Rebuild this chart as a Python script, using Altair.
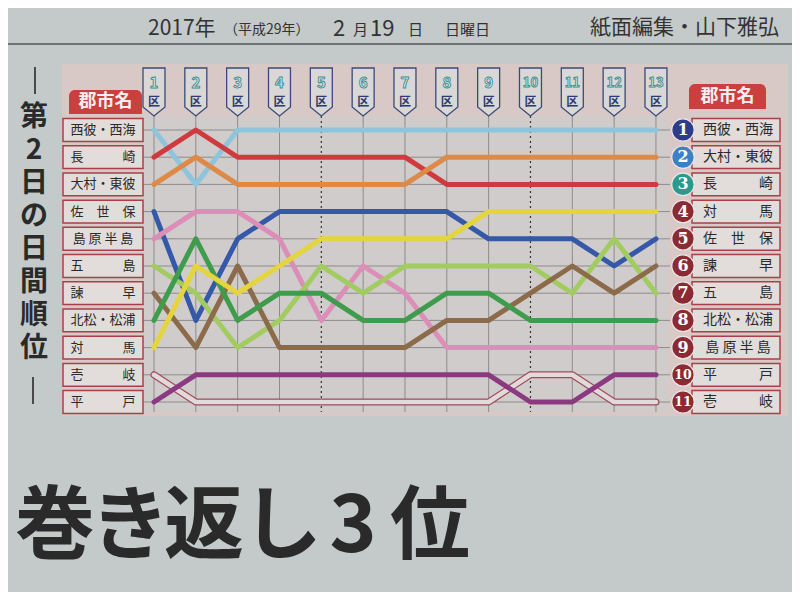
import altair as alt
import pandas as pd

# ---------------- data ----------------
stages = list(range(1, 14))
teams = ["西彼・西海", "長崎", "大村・東彼", "佐世保", "島原半島", "五島",
         "諫早", "北松・松浦", "対馬", "壱岐", "平戸"]
rank_nishisonogi = [1, 3, 1, 1, 1, 1, 1, 1, 1, 1, 1, 1, 1]
rank_nagasaki = [2, 1, 2, 2, 2, 2, 2, 3, 3, 3, 3, 3, 3]
rank_omura = [3, 2, 3, 3, 3, 3, 3, 2, 2, 2, 2, 2, 2]
rank_sasebo = [4, 8, 5, 4, 4, 4, 4, 4, 5, 5, 5, 6, 5]
rank_shimabara = [5, 4, 4, 5, 8, 6, 7, 9, 9, 9, 9, 9, 9]
rank_goto = [6, 7, 9, 8, 6, 7, 6, 6, 6, 6, 7, 5, 7]
rank_isahaya = [7, 9, 6, 9, 9, 9, 9, 8, 8, 7, 6, 7, 6]
rank_hokusho = [8, 5, 8, 7, 7, 8, 8, 7, 7, 8, 8, 8, 8]
rank_tsushima = [9, 6, 7, 6, 5, 5, 5, 5, 4, 4, 4, 4, 4]
rank_iki = [10, 11, 11, 11, 11, 11, 11, 11, 11, 10, 10, 11, 11]
rank_hirado = [11, 10, 10, 10, 10, 10, 10, 10, 10, 11, 11, 10, 10]
all_ranks = [rank_nishisonogi, rank_nagasaki, rank_omura, rank_sasebo,
             rank_shimabara, rank_goto, rank_isahaya, rank_hokusho,
             rank_tsushima, rank_iki, rank_hirado]
line_colors = ["#8ec5dc", "#cf3a3e", "#dd8a48", "#3558a8", "#dc8eb8", "#a2cc62",
               "#8c6b4b", "#3e9c4c", "#e4d43e", "#a04a5a", "#8b3a82"]

left_names = ["西彼・西海", "長　　　崎", "大村・東彼", "佐　世　保", "島 原 半 島",
              "五　　　島", "諫　　　早", "北松・松浦", "対　　　馬", "壱　　　岐", "平　　　戸"]
final_names = ["西彼・西海", "大村・東彼", "長　　　崎", "対　　　馬", "佐　世　保",
               "諫　　　早", "五　　　島", "北松・松浦", "島 原 半 島", "平　　　戸", "壱　　　岐"]
final_badge_colors = ["#2d3d8c", "#3d80c4", "#2a9a8c"] + ["#8c2a34"] * 8
rank_rows = list(range(1, 12))

header_left = "2017年"
header_era = "（平成29年）"
header_date = ["2", "月", "19", "日"]
header_dow = "日曜日"
header_right = "紙面編集・山下雅弘"
side_title = ["第", "2", "日", "の", "日", "間", "順", "位"]
headline = ["巻", "き", "返", "し", "3", "位"]

JP = "Noto Sans CJK JP"

# ---------------- scales ----------------
X_SCALE = alt.Scale(domain=[-2.490, 16.252], nice=False, zero=False)
Y_SCALE = alt.Scale(domain=[-3.485, 17.985], nice=False, zero=False, reverse=True)


def xq(f):
    return alt.X(f, type="quantitative", scale=X_SCALE, axis=None)


def yq(f):
    return alt.Y(f, type="quantitative", scale=Y_SCALE, axis=None)


one = pd.DataFrame({"a": [0]})


def label(text, x, y, **kw):
    return alt.Chart(one).mark_text(text=text, **kw).encode(x=alt.value(x), y=alt.value(y))


def box(x1, y1, x2, y2, **kw):
    return alt.Chart(one).mark_rect(**kw).encode(
        x=alt.value(x1), x2=alt.value(x2), y=alt.value(y1), y2=alt.value(y2))


# ---------------- tables ----------------
line_df = pd.DataFrame([
    {"team": t, "stage": s, "rank": r}
    for t, rr in zip(teams, all_ranks) for s, r in zip(stages, rr)
])
main_df = line_df[line_df.team != "壱岐"]
iki_df = line_df[line_df.team == "壱岐"]

stage_df = pd.DataFrame({"stage": stages, "num": [str(s) for s in stages]})
stage_df["fs"] = [15 if s < 10 else 13 for s in stages]
dotted_df = stage_df[stage_df.stage.isin([5, 10])]
solid_df = stage_df[~stage_df.stage.isin([5, 10])]

rows_df = pd.DataFrame({
    "rank": rank_rows,
    "top": [r - 0.42 for r in rank_rows],
    "bot": [r + 0.42 for r in rank_rows],
    "left": left_names,
    "final": final_names,
    "num": [str(r) for r in rank_rows],
    "badge": final_badge_colors,
})
rows_df["fs"] = [16 if r < 10 else 12.5 for r in rank_rows]

layers = []

# panel backgrounds
layers.append(box(54, 56, 780, 408, fill="#d8c9c6"))
layers.append(box(135, 108, 660, 404, fill="#d0cccb"))

# grid
layers.append(alt.Chart(solid_df).mark_rule(color="#8c8c8c", strokeWidth=1).encode(
    x=xq("stage"), y=alt.value(108), y2=alt.value(404)))
layers.append(alt.Chart(dotted_df).mark_rule(color="#333333", strokeWidth=1.2, strokeDash=[2, 3]).encode(
    x=xq("stage"), y=alt.value(108), y2=alt.value(404)))
layers.append(alt.Chart(rows_df).mark_rule(color="#8c8c8c", strokeWidth=1).encode(
    y=yq("rank"), x=alt.value(135), x2=alt.value(662)))

# stage tags
TAG = "M-0.458,-1 L0.458,-1 L0.458,0.62 L0,1 L-0.458,0.62 Z"
layers.append(alt.Chart(stage_df).mark_point(
    shape=TAG, size=2304, filled=True, fill="#d9d8d6", stroke="#3c4a7a",
    strokeWidth=1.3, opacity=1).encode(x=xq("stage"), y=alt.value(84)))
layers.append(alt.Chart(stage_df).mark_text(
    font=JP, fontWeight="bold", fill="#e4eeee", stroke="#3d8a90",
    strokeWidth=0.9).encode(x=xq("stage"), y=alt.value(75), text="num:N",
                            size=alt.Size("fs:Q", scale=None)))
layers.append(alt.Chart(stage_df).mark_text(
    text="区", font=JP, fontSize=12, fontWeight="bold", color="#2e3a70").encode(
    x=xq("stage"), y=alt.value(94)))

# ranking lines
layers.append(alt.Chart(iki_df).mark_line(strokeWidth=7, color="#a04a5a", strokeCap="round",
                                          strokeJoin="round").encode(x=xq("stage"), y=yq("rank")))
layers.append(alt.Chart(iki_df).mark_line(strokeWidth=4.6, color="#e2dada", strokeCap="round",
                                          strokeJoin="round").encode(x=xq("stage"), y=yq("rank")))
main_teams = [t for t in teams if t != "壱岐"]
main_colors = [c for t, c in zip(teams, line_colors) if t != "壱岐"]
layers.append(alt.Chart(main_df).mark_line(strokeWidth=5, strokeCap="round", strokeJoin="round").encode(
    x=xq("stage"), y=yq("rank"),
    color=alt.Color("team:N", scale=alt.Scale(domain=main_teams, range=main_colors), legend=None)))

# left labels
layers.append(box(61, 82, 134, 106, fill="#c9403f", cornerRadiusTopLeft=6, cornerRadiusTopRight=6))
layers.append(label("郡市名", 97.5, 94, font=JP, fontSize=18, fontWeight="bold", color="#f6eeee"))
layers.append(alt.Chart(rows_df).mark_rect(fill="#e2dcda", stroke="#a8404a", strokeWidth=1.5).encode(
    x=alt.value(55), x2=alt.value(135), y=yq("top"), y2=alt.Y2("bot")))
layers.append(alt.Chart(rows_df).mark_text(font=JP, fontSize=13, color="#2a2a2a").encode(
    x=alt.value(95), y=yq("rank"), text="left:N"))

# right labels
layers.append(box(681, 76, 758, 101, fill="#c9403f", cornerRadiusTopLeft=6, cornerRadiusTopRight=6))
layers.append(label("郡市名", 719.5, 88.5, font=JP, fontSize=18, fontWeight="bold", color="#f6eeee"))
layers.append(alt.Chart(rows_df).mark_rect(fill="#e2dcda", stroke="#a8404a", strokeWidth=1.5).encode(
    x=alt.value(684), x2=alt.value(772), y=yq("top"), y2=alt.Y2("bot")))
layers.append(alt.Chart(rows_df).mark_text(font=JP, fontSize=14, color="#2a2a2a").encode(
    x=alt.value(730), y=yq("rank"), text="final:N"))
layers.append(alt.Chart(rows_df).mark_circle(size=500, opacity=1, stroke="#eee6e6", strokeWidth=1.2).encode(
    x=alt.value(675), y=yq("rank"), color=alt.Color("badge:N", scale=None)))
layers.append(alt.Chart(rows_df).mark_text(font="DejaVu Serif", fontWeight="bold",
                                           color="#ffffff").encode(
    x=alt.value(675), y=yq("rank"), text="num:N", size=alt.Size("fs:Q", scale=None)))

# header
layers.append(alt.Chart(one).mark_rule(color="#555555", strokeWidth=1.4).encode(
    x=alt.value(0), x2=alt.value(784), y=alt.value(36)))
layers.append(label(header_left, 140, 21, font=JP, fontSize=21, align="left", color="#333333"))
layers.append(label(header_era, 216, 22, font=JP, fontSize=14, align="left", color="#333333"))
layers.append(label(header_date[0], 325, 21, font=JP, fontSize=22, align="left", color="#333333"))
layers.append(label(header_date[1], 345, 22, font=JP, fontSize=15, align="left", color="#333333"))
layers.append(label(header_date[2], 362, 21, font=JP, fontSize=22, align="left", color="#333333"))
layers.append(label(header_date[3], 400, 22, font=JP, fontSize=15, align="left", color="#333333"))
layers.append(label(header_dow, 437, 22, font=JP, fontSize=15, align="left", color="#333333"))
layers.append(label(header_right, 582, 20, font=JP, fontSize=21, align="left", color="#333333"))

# vertical side title (one multi-line text)
layers.append(alt.Chart(one).mark_text(
    text=side_title, font=JP, fontSize=28, fontWeight="bold", color="#2a2a2a",
    lineHeight=33, baseline="middle").encode(x=alt.value(26), y=alt.value(110)))
layers.append(alt.Chart(one).mark_rule(color="#2a2a2a", strokeWidth=1.6).encode(
    x=alt.value(27), y=alt.value(59), y2=alt.value(86)))
layers.append(alt.Chart(one).mark_rule(color="#2a2a2a", strokeWidth=1.6).encode(
    x=alt.value(25), y=alt.value(369), y2=alt.value(396)))

# headline
head_x = [47, 122, 196, 274, 345, 422]
for ch, xx in zip(headline, head_x):
    layers.append(label(ch, xx, 520, font=JP, fontSize=80, fontWeight="bold", color="#2a2a2a"))

chart = alt.layer(*layers).properties(
    width=784, height=584, padding=0,
    autosize=alt.AutoSizeParams(type="none"),
).configure(background="#c4c9c9").configure_view(strokeWidth=0)

chart.save("out.html", embed_options={"renderer": "svg", "actions": False})
